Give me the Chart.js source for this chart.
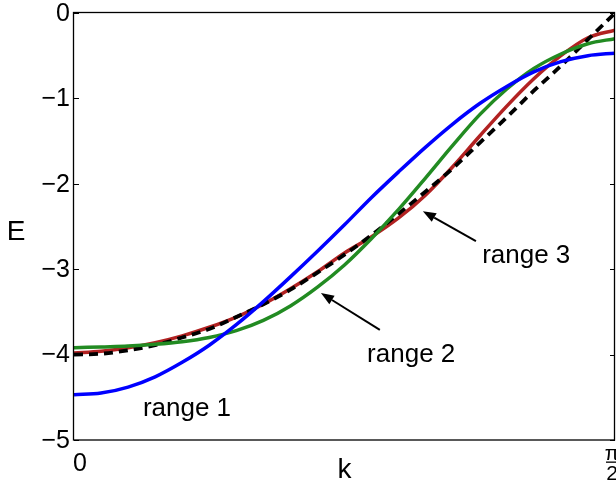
<!DOCTYPE html>
<html>
<head>
<meta charset="utf-8">
<script src="https://cdn.jsdelivr.net/npm/chart.js@4/dist/chart.umd.min.js"></script>
<style>
  html, body { margin:0; padding:0; background:#fff; }
  #wrap { width:616px; height:484px; }
</style>
</head>
<body>
<div id="wrap"><canvas id="chart" width="616" height="484"></canvas></div>
<script>
// k sampled as fractions of pi/2
const kFrac = [0,0.05,0.1,0.15,0.2,0.25,0.3,0.35,0.4,0.45,0.5,0.55,0.6,0.65,0.7,0.75,0.8,0.85,0.9,0.95,1];
const exactE  = [-4.00,-3.99,-3.95,-3.89,-3.80,-3.70,-3.56,-3.41,-3.24,-3.04,-2.83,-2.60,-2.35,-2.09,-1.82,-1.52,-1.22,-0.91,-0.62,-0.31,0.00];
const range1E = [-4.47,-4.45,-4.38,-4.26,-4.09,-3.89,-3.65,-3.38,-3.09,-2.79,-2.48,-2.16,-1.86,-1.57,-1.30,-1.06,-0.86,-0.69,-0.57,-0.50,-0.47];
const range2E = [-3.92,-3.91,-3.90,-3.88,-3.85,-3.80,-3.72,-3.60,-3.43,-3.21,-2.95,-2.64,-2.30,-1.93,-1.55,-1.19,-0.89,-0.65,-0.48,-0.36,-0.30];
const range3E = [-3.98,-3.96,-3.92,-3.86,-3.78,-3.68,-3.56,-3.41,-3.23,-3.03,-2.81,-2.62,-2.40,-2.13,-1.80,-1.44,-1.09,-0.77,-0.50,-0.29,-0.20];
const yTicks = [-5,-4,-3,-2,-1,0];
const xTickLabels = ['0','\u03c0/2'];

// annotation anchors in data units (k, E)
const notes = [
  {text:'range 1', k:0.200, E:-4.72},
  {text:'range 2', k:0.851, E:-4.09, from:[0.888,-3.71], to:[0.717,-3.28]},
  {text:'range 3', k:1.185, E:-2.93, from:[1.167,-2.67], to:[1.013,-2.32]}
];

const kMax = Math.PI/2;
const pts = arr => arr.map((e,i)=>({x:kFrac[i]*kMax, y:e}));
const FONT = '"Liberation Sans", Arial, Helvetica, sans-serif';

function line(label, arr, color, dash, w){
  return {label, data:pts(arr), borderColor:color, borderWidth:w||3.5, borderDash:dash||[],
    pointRadius:0, fill:false, cubicInterpolationMode:'monotone', borderCapStyle:'butt'};
}

function arrow(ctx, x1,y1,x2,y2){
  const ang = Math.atan2(y2-y1, x2-x1), L = 13, W = 5;
  const bx = x2 - L*Math.cos(ang), by = y2 - L*Math.sin(ang);
  ctx.beginPath(); ctx.moveTo(x1,y1); ctx.lineTo(bx,by); ctx.stroke();
  ctx.beginPath();
  ctx.moveTo(x2,y2);
  ctx.lineTo(bx + W*Math.sin(ang), by - W*Math.cos(ang));
  ctx.lineTo(bx - W*Math.sin(ang), by + W*Math.cos(ang));
  ctx.closePath(); ctx.fill();
}

const axesPlugin = {
  id:'axesPlugin',
  afterDatasetsDraw(chart){
    const {ctx, chartArea:a, scales:{x,y}} = chart;
    ctx.save();
    ctx.strokeStyle = '#000'; ctx.fillStyle = '#000';
    // frame
    ctx.lineWidth = 1.3;
    ctx.strokeRect(a.left-0.5, a.top-0.5, a.right-a.left, a.bottom-a.top+0.5);
    // y ticks, inside on both sides
    ctx.lineWidth = 1;
    yTicks.forEach(v=>{
      const py = Math.round(y.getPixelForValue(v))+0.5;
      ctx.beginPath(); ctx.moveTo(a.left, py); ctx.lineTo(a.left+5, py);
      ctx.moveTo(a.right, py); ctx.lineTo(a.right-5, py); ctx.stroke();
    });
    // y tick labels
    ctx.font = '25px '+FONT;
    ctx.textAlign = 'right'; ctx.textBaseline = 'middle';
    yTicks.forEach(v=>{
      const s = v<0 ? '\u2212'+Math.abs(v) : String(v);
      ctx.fillText(s, a.left-4, y.getPixelForValue(v)+1);
    });
    // x tick labels
    ctx.textAlign = 'center';
    ctx.fillText(xTickLabels[0], x.getPixelForValue(0)+6, 464);
    const px = x.getPixelForValue(kMax)-3;
    ctx.font = '21px '+FONT;
    ctx.textBaseline = 'alphabetic';
    const [num, den] = xTickLabels[1].split('/');
    ctx.fillText(num, px, 460);
    ctx.fillRect(px-6, 461.5, 12, 1.3);
    ctx.fillText(den, px, 480);
    // axis titles
    ctx.font = '28px '+FONT;
    ctx.textBaseline = 'middle';
    ctx.fillText('k', (a.left+a.right)/2, 470);
    ctx.fillText('E', 16, 232);
    // annotations
    ctx.font = '26px '+FONT;
    ctx.textAlign = 'left'; ctx.textBaseline = 'alphabetic';
    ctx.lineWidth = 2;
    notes.forEach(n=>{
      ctx.fillText(n.text, x.getPixelForValue(n.k), y.getPixelForValue(n.E));
      if(n.from){
        arrow(ctx, x.getPixelForValue(n.from[0]), y.getPixelForValue(n.from[1]),
                   x.getPixelForValue(n.to[0]), y.getPixelForValue(n.to[1]));
      }
    });
    ctx.restore();
  }
};

new Chart(document.getElementById('chart'), {
  type:'line',
  data:{datasets:[
    line('range 1', range1E, '#0000ff'),
    line('range 2', range2E, '#228b22'),
    line('exact', exactE, '#000000', [9,6], 3.8),
    line('range 3', range3E, '#b22222')
  ]},
  options:{
    responsive:false, animation:false,
    layout:{padding:{left:74, top:13, right:1, bottom:44}},
    scales:{
      x:{type:'linear', min:0, max:kMax, display:false},
      y:{type:'linear', min:-5, max:0, display:false}
    },
    plugins:{legend:{display:false}, tooltip:{enabled:false}}
  },
  plugins:[axesPlugin]
});
</script>
</body>
</html>
